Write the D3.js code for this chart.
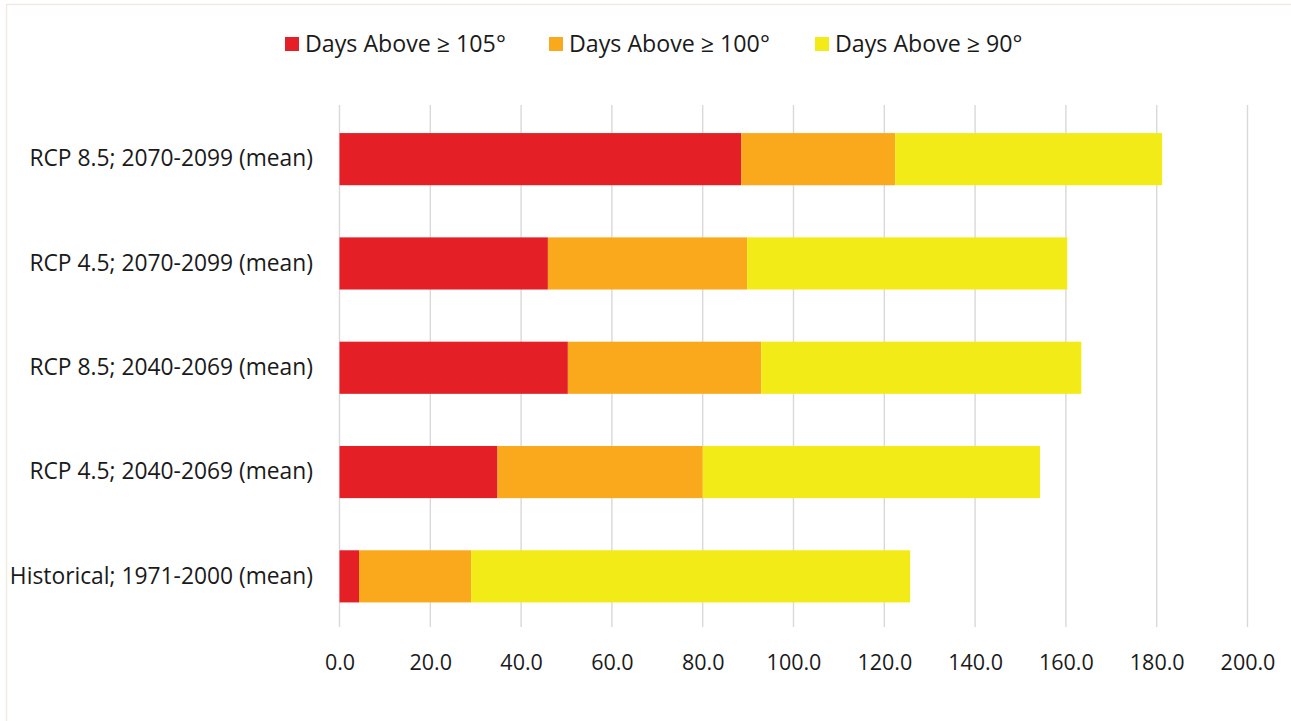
<!DOCTYPE html>
<html>
<head>
<meta charset="utf-8">
<script src="https://cdn.jsdelivr.net/npm/d3@7"></script>
<style>
  html, body { margin: 0; padding: 0; background: #ffffff; }
  svg { display: block; }
  text { font-family: "Open Sans", "Noto Sans", sans-serif; fill: #1a1a1a; }
</style>
</head>
<body>
<svg id="chart" width="1291" height="721"></svg>
<script>
// Scenario rows, listed top to bottom
const categories = [
  "RCP 8.5; 2070-2099 (mean)",
  "RCP 4.5; 2070-2099 (mean)",
  "RCP 8.5; 2040-2069 (mean)",
  "RCP 4.5; 2040-2069 (mean)",
  "Historical; 1971-2000 (mean)"
];

// Stacked segment lengths (days) for each series
const seriesNames = ["Days Above ≥ 105°", "Days Above ≥ 100°", "Days Above ≥ 90°"];
const days105 = [88.5, 45.9, 50.3, 34.8, 4.3];
const days100 = [33.9, 43.9, 42.6, 45.2, 24.7];
const days90  = [58.8, 70.5, 70.5, 74.3, 96.7];
const seriesColors = ["#e41f26", "#fba91c", "#f3eb17"];

const tickValues = [0, 20, 40, 60, 80, 100, 120, 140, 160, 180, 200];

const svg = d3.select("#chart");

// Chart frame
svg.append("rect")
  .attr("x", 6.5).attr("y", 4.5)
  .attr("width", 1300).attr("height", 730)
  .attr("fill", "#ffffff")
  .attr("stroke", "#eeebe3")
  .attr("stroke-width", 1.5);

const x = d3.scaleLinear().domain([0, 200]).range([339.5, 1247.5]);
const y = d3.scaleBand().domain(categories).range([107, 628.5])
  .paddingInner(0.5).paddingOuter(0.25);

// Vertical gridlines
svg.append("g")
  .selectAll("line")
  .data(tickValues)
  .join("line")
  .attr("x1", d => x(d)).attr("x2", d => x(d))
  .attr("y1", 105).attr("y2", 627)
  .attr("stroke", "#d9d9d9")
  .attr("stroke-width", 1.4);

// Build stacked data
const rows = categories.map((c, i) => ({
  cat: c,
  [seriesNames[0]]: days105[i],
  [seriesNames[1]]: days100[i],
  [seriesNames[2]]: days90[i]
}));
const stacked = d3.stack().keys(seriesNames)(rows);

svg.append("g")
  .selectAll("g")
  .data(stacked)
  .join("g")
  .attr("fill", (d, i) => seriesColors[i])
  .selectAll("rect")
  .data(d => d)
  .join("rect")
  .attr("x", d => x(d[0]))
  .attr("width", d => x(d[1]) - x(d[0]))
  .attr("y", d => y(d.data.cat))
  .attr("height", y.bandwidth());

// X axis tick labels
const xAxis = d3.axisBottom(x)
  .tickValues(tickValues)
  .tickFormat(d3.format(".1f"))
  .tickSize(0)
  .tickPadding(0);
const gx = svg.append("g").attr("transform", "translate(0,662)").call(xAxis);
gx.select(".domain").remove();
gx.selectAll("text")
  .attr("dy", "0.35em")
  .attr("y", 0)
  .style("font-family", "\"Open Sans\", \"Noto Sans\", sans-serif")
  .style("font-size", "21.5px")
  .attr("fill", "#1a1a1a");

// Y axis category labels
const yAxis = d3.axisLeft(y).tickSize(0).tickPadding(0);
const gy = svg.append("g").attr("transform", "translate(313,0)").call(yAxis);
gy.select(".domain").remove();
gy.selectAll("text")
  .attr("x", 0)
  .style("font-family", "\"Open Sans\", \"Noto Sans\", sans-serif")
  .style("font-size", "22.8px")
  .attr("fill", "#1a1a1a");

// Legend
const legendX = [285, 549, 815];
const legend = svg.append("g")
  .selectAll("g")
  .data(seriesNames)
  .join("g")
  .attr("transform", (d, i) => `translate(${legendX[i]},44)`);
legend.append("rect")
  .attr("x", 0).attr("y", -7)
  .attr("width", 14).attr("height", 14)
  .attr("fill", (d, i) => seriesColors[i]);
legend.append("text")
  .attr("x", 20).attr("y", 0)
  .attr("dy", "0.35em")
  .style("font-size", "23.2px")
  .text(d => d);
</script>
</body>
</html>
